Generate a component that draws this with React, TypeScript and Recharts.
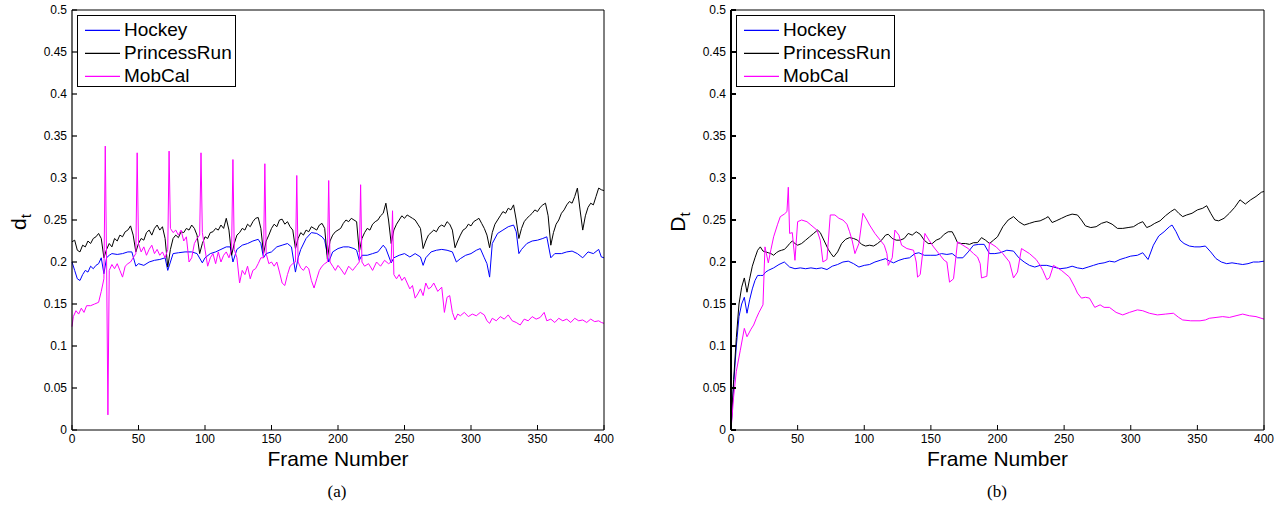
import React from "react";
import { LineChart, Line, XAxis, YAxis, Legend } from "recharts";

type Pt = [number, number];

const frameTicks = [0, 50, 100, 150, 200, 250, 300, 350, 400];
const valueTicks = [0, 0.05, 0.1, 0.15, 0.2, 0.25, 0.3, 0.35, 0.4, 0.45, 0.5];
const seriesNames = ["Hockey", "PrincessRun", "MobCal"];
const seriesColors = ["#0000ff", "#000000", "#ff00ff"];

// (a) d_t per frame
const hockeyA: Pt[] = [
  [0, 0.2], [2, 0.19], [4, 0.18], [6, 0.178], [8, 0.185], [10, 0.19], [12, 0.188], [14, 0.195],
  [16, 0.192], [18, 0.196], [20, 0.198], [22, 0.205], [24, 0.186], [26, 0.205], [28, 0.208],
  [30, 0.21], [34, 0.209], [38, 0.21], [42, 0.212], [45, 0.212], [48, 0.195], [50, 0.198],
  [54, 0.196], [58, 0.2], [62, 0.202], [66, 0.203], [70, 0.205], [72, 0.19], [74, 0.2],
  [76, 0.21], [80, 0.211], [85, 0.212], [90, 0.212], [94, 0.21], [98, 0.199], [100, 0.205],
  [104, 0.21], [108, 0.212], [112, 0.215], [116, 0.218], [119, 0.218], [121, 0.2], [124, 0.215],
  [128, 0.22], [132, 0.222], [136, 0.225], [140, 0.227], [142, 0.222], [144, 0.205], [146, 0.21],
  [150, 0.212], [154, 0.218], [158, 0.22], [162, 0.222], [165, 0.218], [168, 0.188], [170, 0.205],
  [172, 0.215], [176, 0.228], [180, 0.235], [184, 0.234], [188, 0.23], [190, 0.226], [193, 0.2],
  [196, 0.212], [200, 0.216], [204, 0.218], [208, 0.218], [212, 0.216], [214, 0.214], [216, 0.202],
  [218, 0.208], [222, 0.208], [226, 0.21], [230, 0.212], [234, 0.22], [236, 0.216], [240, 0.199],
  [242, 0.205], [246, 0.208], [250, 0.21], [254, 0.206], [258, 0.21], [262, 0.206], [264, 0.196],
  [266, 0.205], [270, 0.212], [274, 0.214], [278, 0.215], [282, 0.214], [286, 0.212], [289, 0.2],
  [292, 0.204], [296, 0.208], [300, 0.21], [304, 0.214], [307, 0.216], [310, 0.205], [312, 0.198],
  [314, 0.182], [316, 0.222], [320, 0.234], [324, 0.238], [328, 0.242], [332, 0.244], [334, 0.236],
  [336, 0.21], [338, 0.215], [342, 0.222], [346, 0.225], [350, 0.226], [354, 0.228], [357, 0.23],
  [360, 0.205], [363, 0.21], [368, 0.21], [372, 0.212], [376, 0.213], [380, 0.21], [384, 0.205],
  [388, 0.212], [392, 0.21], [396, 0.215], [398, 0.206], [400, 0.205],
];

const princessA: Pt[] = [
  [0, 0.224], [2, 0.226], [4, 0.214], [6, 0.212], [8, 0.22], [10, 0.218], [12, 0.225], [14, 0.222],
  [16, 0.228], [18, 0.23], [20, 0.234], [22, 0.228], [24, 0.205], [26, 0.215], [28, 0.222],
  [30, 0.218], [32, 0.228], [34, 0.225], [36, 0.232], [38, 0.23], [40, 0.236], [42, 0.238],
  [44, 0.243], [46, 0.232], [48, 0.212], [50, 0.222], [52, 0.228], [54, 0.226], [56, 0.235],
  [58, 0.238], [60, 0.232], [62, 0.24], [64, 0.244], [66, 0.238], [68, 0.242], [70, 0.228],
  [72, 0.194], [74, 0.215], [76, 0.228], [78, 0.232], [80, 0.229], [82, 0.236], [84, 0.235],
  [86, 0.24], [88, 0.238], [90, 0.244], [92, 0.24], [94, 0.232], [96, 0.21], [98, 0.222],
  [100, 0.23], [102, 0.228], [104, 0.235], [106, 0.236], [108, 0.24], [110, 0.238], [112, 0.244],
  [114, 0.24], [116, 0.252], [118, 0.238], [120, 0.208], [122, 0.222], [124, 0.232], [126, 0.235],
  [128, 0.24], [130, 0.238], [132, 0.245], [134, 0.242], [136, 0.248], [138, 0.252], [140, 0.253],
  [142, 0.24], [144, 0.21], [146, 0.225], [148, 0.232], [150, 0.24], [152, 0.245], [154, 0.242],
  [156, 0.25], [158, 0.251], [160, 0.245], [162, 0.248], [164, 0.242], [166, 0.238], [168, 0.216],
  [170, 0.228], [172, 0.235], [174, 0.232], [176, 0.238], [178, 0.236], [180, 0.242], [182, 0.24],
  [184, 0.238], [186, 0.244], [188, 0.246], [190, 0.24], [192, 0.204], [194, 0.225], [196, 0.232],
  [198, 0.236], [200, 0.238], [202, 0.24], [204, 0.246], [206, 0.25], [208, 0.248], [210, 0.252],
  [212, 0.25], [214, 0.248], [216, 0.212], [218, 0.228], [220, 0.235], [222, 0.24], [224, 0.238],
  [226, 0.245], [228, 0.248], [230, 0.25], [232, 0.255], [234, 0.258], [236, 0.27], [238, 0.25],
  [240, 0.222], [242, 0.238], [244, 0.245], [246, 0.25], [248, 0.255], [250, 0.252], [252, 0.256],
  [254, 0.254], [256, 0.252], [258, 0.25], [260, 0.245], [262, 0.24], [264, 0.216], [266, 0.225],
  [268, 0.232], [270, 0.235], [272, 0.238], [274, 0.236], [276, 0.242], [278, 0.244], [280, 0.242],
  [282, 0.248], [284, 0.245], [286, 0.238], [288, 0.217], [290, 0.225], [292, 0.232], [294, 0.238],
  [296, 0.24], [298, 0.245], [300, 0.243], [302, 0.248], [304, 0.25], [306, 0.252], [308, 0.246],
  [310, 0.24], [312, 0.232], [314, 0.217], [316, 0.235], [318, 0.245], [320, 0.25], [322, 0.255],
  [324, 0.26], [326, 0.258], [328, 0.264], [330, 0.262], [332, 0.268], [334, 0.25], [336, 0.228],
  [338, 0.24], [340, 0.248], [342, 0.252], [344, 0.255], [346, 0.258], [348, 0.262], [350, 0.26],
  [352, 0.265], [354, 0.268], [356, 0.27], [358, 0.255], [360, 0.22], [362, 0.235], [364, 0.245],
  [366, 0.25], [368, 0.258], [370, 0.262], [372, 0.268], [374, 0.272], [376, 0.27], [378, 0.278],
  [380, 0.288], [382, 0.262], [384, 0.238], [386, 0.255], [388, 0.265], [390, 0.27], [392, 0.268],
  [394, 0.278], [396, 0.288], [398, 0.286], [400, 0.285],
];

const mobcalA: Pt[] = [
  [0, 0.123], [1, 0.135], [3, 0.142], [5, 0.138], [7, 0.145], [9, 0.14], [11, 0.148], [14, 0.148],
  [17, 0.15], [20, 0.152], [22, 0.165], [24, 0.18], [25, 0.338], [26, 0.2], [27, 0.018], [28, 0.19],
  [30, 0.197], [32, 0.192], [34, 0.198], [36, 0.19], [38, 0.182], [40, 0.195], [42, 0.198],
  [44, 0.2], [46, 0.205], [48, 0.21], [49, 0.33], [50, 0.222], [52, 0.212], [54, 0.218],
  [56, 0.208], [58, 0.215], [60, 0.22], [62, 0.21], [64, 0.215], [66, 0.208], [68, 0.212],
  [70, 0.205], [72, 0.215], [73, 0.332], [74, 0.24], [76, 0.235], [78, 0.238], [80, 0.232],
  [82, 0.238], [84, 0.225], [86, 0.23], [88, 0.2], [90, 0.205], [92, 0.222], [94, 0.228],
  [96, 0.232], [97, 0.33], [98, 0.235], [100, 0.215], [102, 0.195], [104, 0.205], [106, 0.21],
  [108, 0.198], [110, 0.212], [112, 0.2], [114, 0.208], [116, 0.212], [118, 0.205], [120, 0.215],
  [121, 0.322], [122, 0.215], [124, 0.205], [126, 0.175], [128, 0.19], [130, 0.185], [132, 0.195],
  [134, 0.18], [136, 0.19], [138, 0.192], [140, 0.198], [142, 0.205], [144, 0.205], [145, 0.317],
  [146, 0.21], [148, 0.198], [150, 0.2], [152, 0.195], [154, 0.2], [156, 0.188], [158, 0.175],
  [160, 0.172], [162, 0.185], [164, 0.195], [166, 0.198], [168, 0.2], [169, 0.303], [170, 0.2],
  [172, 0.193], [174, 0.19], [176, 0.195], [178, 0.192], [180, 0.178], [182, 0.169], [184, 0.18],
  [186, 0.19], [188, 0.195], [190, 0.198], [192, 0.2], [193, 0.297], [194, 0.2], [196, 0.195],
  [198, 0.19], [200, 0.196], [202, 0.192], [205, 0.185], [208, 0.195], [211, 0.19], [214, 0.196],
  [216, 0.2], [217, 0.292], [218, 0.2], [220, 0.195], [223, 0.198], [226, 0.19], [229, 0.2],
  [232, 0.195], [235, 0.202], [238, 0.198], [240, 0.2], [241, 0.261], [242, 0.185], [244, 0.18],
  [246, 0.185], [248, 0.178], [250, 0.182], [252, 0.175], [254, 0.168], [256, 0.172], [258, 0.157],
  [260, 0.162], [262, 0.168], [264, 0.16], [266, 0.175], [268, 0.168], [270, 0.17], [272, 0.175],
  [275, 0.165], [278, 0.17], [280, 0.14], [282, 0.158], [284, 0.16], [286, 0.14], [288, 0.131],
  [290, 0.138], [292, 0.136], [295, 0.14], [298, 0.135], [301, 0.138], [304, 0.136], [307, 0.14],
  [310, 0.137], [312, 0.13], [314, 0.127], [316, 0.133], [319, 0.13], [322, 0.135], [325, 0.132],
  [328, 0.137], [331, 0.13], [334, 0.128], [337, 0.125], [340, 0.132], [343, 0.13], [346, 0.135],
  [349, 0.132], [352, 0.134], [355, 0.14], [357, 0.13], [360, 0.132], [363, 0.128], [366, 0.133],
  [369, 0.13], [372, 0.132], [375, 0.128], [378, 0.133], [381, 0.13], [384, 0.131], [387, 0.128],
  [390, 0.132], [393, 0.129], [396, 0.13], [398, 0.128], [400, 0.127],
];

// (b) D_t per frame
const hockeyB: Pt[] = [
  [0, 0], [2, 0.055], [4, 0.1], [6, 0.135], [8, 0.15], [10, 0.158], [12, 0.139], [14, 0.155],
  [16, 0.168], [18, 0.178], [20, 0.184], [22, 0.184], [24, 0.184], [26, 0.188], [28, 0.19],
  [32, 0.193], [36, 0.197], [40, 0.2], [44, 0.194], [48, 0.192], [52, 0.193], [56, 0.192],
  [60, 0.193], [64, 0.192], [68, 0.193], [72, 0.191], [76, 0.195], [80, 0.197], [84, 0.2],
  [88, 0.201], [92, 0.198], [96, 0.194], [100, 0.196], [104, 0.197], [108, 0.2], [112, 0.202],
  [116, 0.204], [119, 0.201], [122, 0.199], [126, 0.202], [130, 0.204], [134, 0.205], [138, 0.21],
  [141, 0.211], [145, 0.208], [150, 0.208], [154, 0.208], [158, 0.21], [162, 0.209], [166, 0.21],
  [170, 0.205], [174, 0.205], [178, 0.212], [182, 0.22], [186, 0.221], [190, 0.221], [194, 0.21],
  [198, 0.21], [202, 0.211], [207, 0.214], [212, 0.213], [216, 0.205], [220, 0.2], [224, 0.196],
  [228, 0.194], [232, 0.196], [237, 0.196], [242, 0.194], [247, 0.192], [252, 0.193], [256, 0.195],
  [260, 0.193], [264, 0.192], [268, 0.194], [272, 0.196], [276, 0.198], [280, 0.199], [284, 0.201],
  [288, 0.2], [292, 0.203], [296, 0.205], [300, 0.207], [305, 0.208], [309, 0.211], [313, 0.203],
  [317, 0.22], [321, 0.231], [325, 0.236], [329, 0.242], [331, 0.244], [334, 0.236], [337, 0.226],
  [340, 0.222], [344, 0.219], [348, 0.218], [352, 0.218], [356, 0.219], [360, 0.212], [364, 0.204],
  [368, 0.2], [372, 0.198], [376, 0.199], [380, 0.198], [384, 0.197], [388, 0.198], [392, 0.2],
  [396, 0.2], [400, 0.201],
];

const princessB: Pt[] = [
  [0, 0], [2, 0.06], [4, 0.11], [6, 0.15], [8, 0.17], [10, 0.181], [12, 0.164], [14, 0.18],
  [16, 0.195], [18, 0.205], [20, 0.214], [22, 0.218], [24, 0.213], [26, 0.212], [28, 0.211],
  [30, 0.21], [32, 0.208], [34, 0.211], [36, 0.213], [38, 0.214], [40, 0.215], [42, 0.218],
  [44, 0.222], [46, 0.225], [48, 0.222], [50, 0.22], [53, 0.222], [56, 0.226], [59, 0.23],
  [62, 0.234], [65, 0.238], [67, 0.235], [70, 0.225], [73, 0.215], [75, 0.21], [77, 0.206],
  [80, 0.212], [83, 0.222], [86, 0.227], [89, 0.229], [92, 0.228], [95, 0.226], [98, 0.221],
  [101, 0.219], [104, 0.22], [107, 0.219], [110, 0.222], [113, 0.226], [116, 0.232], [118, 0.233],
  [121, 0.228], [124, 0.226], [127, 0.226], [130, 0.228], [133, 0.234], [136, 0.232], [139, 0.236],
  [142, 0.233], [145, 0.226], [148, 0.222], [151, 0.222], [154, 0.226], [157, 0.228], [160, 0.233],
  [163, 0.236], [166, 0.236], [168, 0.23], [170, 0.223], [173, 0.222], [176, 0.222], [179, 0.221],
  [182, 0.223], [185, 0.223], [188, 0.229], [191, 0.226], [194, 0.222], [197, 0.226], [200, 0.23],
  [204, 0.242], [208, 0.25], [212, 0.254], [216, 0.248], [220, 0.244], [224, 0.246], [228, 0.248],
  [232, 0.249], [236, 0.252], [238, 0.254], [241, 0.247], [244, 0.249], [248, 0.252], [252, 0.255],
  [256, 0.257], [260, 0.256], [263, 0.25], [266, 0.243], [270, 0.241], [274, 0.242], [278, 0.246],
  [282, 0.248], [286, 0.245], [290, 0.24], [294, 0.24], [298, 0.241], [302, 0.242], [306, 0.246],
  [309, 0.248], [312, 0.241], [315, 0.243], [318, 0.246], [322, 0.249], [326, 0.255], [330, 0.26],
  [333, 0.263], [336, 0.258], [339, 0.254], [342, 0.256], [346, 0.258], [350, 0.262], [354, 0.264],
  [357, 0.267], [360, 0.258], [363, 0.25], [366, 0.249], [370, 0.252], [374, 0.258], [378, 0.265],
  [382, 0.274], [386, 0.269], [390, 0.274], [394, 0.278], [398, 0.283], [400, 0.284],
];

const mobcalB: Pt[] = [
  [0, 0], [2, 0.04], [4, 0.07], [7, 0.095], [10, 0.121], [12, 0.111], [15, 0.12], [17, 0.125],
  [19, 0.133], [21, 0.14], [24, 0.149], [25.5, 0.218], [28, 0.199], [30, 0.215], [32, 0.23],
  [35, 0.245], [37, 0.254], [40, 0.257], [42, 0.26], [43, 0.289], [44, 0.234], [46, 0.235],
  [48, 0.202], [50, 0.248], [53, 0.25], [57, 0.248], [60, 0.244], [64.5, 0.238], [67, 0.226],
  [69, 0.2], [72, 0.203], [74.5, 0.256], [78, 0.256], [81, 0.252], [84, 0.25], [87, 0.245],
  [89, 0.236], [91, 0.225], [93, 0.21], [96, 0.222], [99, 0.258], [102, 0.25], [104, 0.244],
  [108, 0.234], [112, 0.226], [115, 0.22], [117, 0.21], [118, 0.196], [121, 0.205], [123, 0.238],
  [126, 0.232], [128, 0.22], [132, 0.216], [137, 0.214], [139, 0.2], [140, 0.182], [142, 0.185],
  [145.5, 0.234], [149, 0.225], [152, 0.218], [156, 0.21], [160, 0.202], [162, 0.2], [164, 0.176],
  [167, 0.18], [170, 0.224], [174, 0.22], [178, 0.216], [182, 0.21], [185, 0.206], [187, 0.198],
  [188, 0.181], [192, 0.183], [194, 0.223], [199, 0.218], [204, 0.21], [209, 0.2], [212, 0.181],
  [215, 0.188], [218, 0.216], [224, 0.21], [229, 0.203], [232, 0.196], [234, 0.19], [237, 0.179],
  [239, 0.181], [242, 0.196], [248, 0.19], [254, 0.182], [258, 0.17], [260, 0.163], [263, 0.157],
  [266, 0.158], [269, 0.157], [273, 0.146], [277, 0.149], [280, 0.146], [284, 0.146], [289, 0.14],
  [294, 0.137], [299, 0.14], [305, 0.143], [309, 0.142], [314, 0.139], [320, 0.137], [326, 0.138],
  [332, 0.139], [336, 0.134], [339, 0.131], [345, 0.13], [352, 0.13], [356, 0.131], [359, 0.133],
  [364, 0.134], [369, 0.135], [374, 0.134], [379, 0.136], [384, 0.138], [389, 0.136], [394, 0.135],
  [400, 0.132],
];

const toRows = (pts: Pt[]) => pts.map(([frame, value]) => ({ frame, value }));

const sansFont = '"Liberation Sans", Arial, Helvetica, sans-serif';

// legend rows come straight from the series arrays so order and colour stay fixed
const renderLegend = () => (
  <div
    style={{
      border: "1px solid #000",
      background: "#fff",
      width: 159,
      height: 72,
      boxSizing: "border-box",
      paddingTop: 2,
      fontFamily: sansFont,
    }}
  >
    {seriesNames.map((name, i) => (
      <div key={name} style={{ display: "flex", alignItems: "center", height: 23 }}>
        <svg width={35} height={6} style={{ marginLeft: 7, marginRight: 4, display: "block" }}>
          <line x1={0} x2={35} y1={3.3} y2={3.3} stroke={seriesColors[i]} strokeWidth={1.2} />
        </svg>
        <span style={{ fontSize: 19, color: "#000", lineHeight: "23px" }}>{name}</span>
      </div>
    ))}
  </div>
);

const YTitle = ({ viewBox, letter }: any) => {
  const x = viewBox.x + 4;
  const y = viewBox.y + viewBox.height / 2 + 2;
  return (
    <text
      x={x}
      y={y}
      transform={`rotate(-90, ${x}, ${y})`}
      textAnchor="middle"
      fill="#000"
      fontSize={21}
    >
      {letter}
      <tspan dy={5} fontSize={15}>
        t
      </tspan>
    </text>
  );
};

type PanelProps = {
  left: number;
  width: number;
  marginRight: number;
  letter: string;
  caption: string;
  captionX: number;
  axisStroke: number;
  series: Pt[][];
};

const Panel = ({ left, width, marginRight, letter, caption, captionX, axisStroke, series }: PanelProps) => (
  <div style={{ position: "absolute", left, top: 0, width, height: 508, fontFamily: sansFont }}>
    <LineChart width={width} height={508} margin={{ top: 9, right: marginRight, bottom: 42, left: 22 }}>
      <XAxis
        dataKey="frame"
        type="number"
        domain={[0, 400]}
        ticks={frameTicks}
        height={36}
        stroke="#000"
        strokeWidth={1}
        tickSize={-5}
        tickMargin={9}
        tick={{ fill: "#000", fontSize: 12 }}
        label={{ value: "Frame Number", position: "insideBottom", offset: 0, fill: "#000", fontSize: 21 }}
      />
      <XAxis
        xAxisId="top"
        orientation="top"
        type="number"
        domain={[0, 400]}
        ticks={frameTicks}
        height={1}
        stroke="#000"
        tickSize={-5}
        tick={false}
      />
      <YAxis
        type="number"
        domain={[0, 0.5]}
        ticks={valueTicks}
        width={50}
        stroke="#000"
        strokeWidth={axisStroke}
        tickSize={-5}
        tickMargin={10}
        tick={{ fill: "#000", fontSize: 12 }}
        label={<YTitle letter={letter} />}
      />
      <YAxis
        yAxisId="right"
        orientation="right"
        type="number"
        domain={[0, 0.5]}
        ticks={valueTicks}
        width={1}
        stroke="#000"
        tickSize={-5}
        tick={false}
      />
      <Legend
        layout="vertical"
        align="center"
        verticalAlign="middle"
        content={renderLegend}
        wrapperStyle={{ left: 77, top: 15, width: 159, height: 72 }}
      />
      {series.map((pts, i) => (
        <Line
          key={seriesNames[i]}
          name={seriesNames[i]}
          data={toRows(pts)}
          dataKey="value"
          type="linear"
          stroke={seriesColors[i]}
          strokeWidth={1}
          dot={false}
          activeDot={false}
          isAnimationActive={false}
        />
      ))}
    </LineChart>
    <div
      style={{
        position: "absolute",
        left: captionX - left - 40,
        width: 80,
        top: 482,
        textAlign: "center",
        fontFamily: '"Liberation Serif", "Times New Roman", serif',
        fontSize: 17,
        color: "#000",
      }}
    >
      {caption}
    </div>
  </div>
);

export default function App() {
  return (
    <div style={{ position: "absolute", left: 0, top: 0, width: 1284, height: 508, background: "#fff" }}>
      <Panel
        left={0}
        width={640}
        marginRight={35}
        letter="d"
        caption="(a)"
        captionX={337}
        axisStroke={1.2}
        series={[hockeyA, princessA, mobcalA]}
      />
      <Panel
        left={659}
        width={625}
        marginRight={19}
        letter="D"
        caption="(b)"
        captionX={997}
        axisStroke={2}
        series={[hockeyB, princessB, mobcalB]}
      />
    </div>
  );
}
